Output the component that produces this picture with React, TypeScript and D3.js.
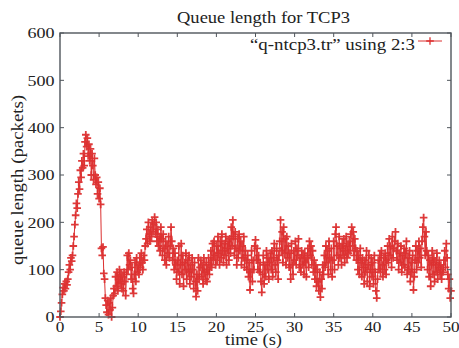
import React from "react";
import * as d3 from "d3";

const TITLE = "Queue length for TCP3";
const X_LABEL = "time (s)";
const Y_LABEL = "queue length (packets)";
const LEGEND = "\u201cq-ntcp3.tr\u201d using 2:3";
const X_TICKS = [0, 5, 10, 15, 20, 25, 30, 35, 40, 45, 50];
const Y_TICKS = [0, 100, 200, 300, 400, 500, 600];
const STEP = 0.1; // sampling interval (s)

// queue length samples, one every 0.1 s, grouped per second
const QUEUE = [
  0, 12, 30, 48, 62, 55, 70, 60, 75, 68,
  80, 95, 110, 100, 125, 118, 130, 150, 170, 195,
  215, 240, 230, 260, 285, 270, 310, 295, 330, 315,
  345, 320, 370, 385, 360, 378, 340, 365, 330, 355,
  300, 345, 320, 290, 335, 300, 280, 295, 260, 285,
  250, 272, 238, 145, 130, 148, 92, 80, 40, 25,
  10, 35, 5, 30, 15, 40, 0, 20, 45, 60,
  50, 85, 65, 95, 55, 80, 100, 70, 90, 60,
  85, 55, 95, 75, 45, 90, 130, 100, 135, 110,
  120, 80, 105, 60, 50, 90, 115, 75, 125, 95,
  110, 90, 125, 105, 135, 115, 100, 130, 120, 150,
  165, 185, 155, 200, 175, 160, 190, 170, 205, 180,
  195, 211, 175, 200, 160, 185, 150, 170, 140, 190,
  165, 130, 175, 145, 120, 160, 110, 150, 135, 170,
  125, 150, 190, 160, 120, 145, 100, 135, 110, 80,
  120, 95, 150, 70, 110, 155, 90, 130, 65, 115,
  100, 135, 80, 120, 95, 130, 70, 110, 85, 125,
  100, 60, 115, 75, 43, 90, 55, 125, 80, 105,
  120, 85, 110, 70, 125, 95, 80, 115, 75, 100,
  125, 90, 110, 140, 105, 155, 120, 160, 130, 110,
  150, 120, 170, 135, 110, 160, 125, 175, 140, 115,
  155, 130, 170, 110, 145, 160, 120, 165, 135, 190,
  150, 205, 170, 130, 180, 145, 110, 165, 125, 175,
  140, 160, 110, 150, 125, 170, 105, 140, 120, 100,
  130, 85, 115, 57, 95, 140, 75, 120, 100, 150,
  163, 120, 145, 100, 130, 95, 115, 75, 52, 90,
  130, 70, 110, 85, 140, 100, 125, 80, 115, 135,
  100, 140, 85, 125, 155, 110, 95, 145, 120, 80,
  130, 160, 205, 140, 180, 115, 190, 135, 165, 110,
  170, 125, 150, 105, 135, 80, 155, 110, 90, 140,
  120, 160, 110, 145, 130, 165, 105, 125, 95, 140,
  110, 130, 90, 135, 115, 85, 125, 145, 105, 160,
  130, 150, 110, 140, 95, 120, 80, 110, 65, 100,
  75, 55, 95, 42, 80, 60, 110, 90, 130, 105,
  150, 115, 140, 90, 160, 125, 100, 145, 85, 120,
  160, 100, 175, 190, 130, 150, 110, 170, 125, 145,
  110, 155, 130, 165, 115, 140, 170, 125, 150, 135,
  160, 140, 175, 190, 150, 180, 130, 165, 145, 120,
  140, 100, 130, 90, 145, 115, 85, 125, 105, 70,
  120, 95, 140, 75, 110, 130, 65, 100, 125, 85,
  115, 70, 130, 95, 55, 40, 80, 120, 100, 130,
  95, 140, 110, 85, 125, 100, 135, 90, 120, 150,
  115, 165, 130, 150, 105, 170, 125, 145, 160, 180,
  140, 120, 155, 100, 135, 115, 150, 95, 130, 110,
  145, 105, 135, 160, 90, 125, 100, 140, 75, 115,
  95, 130, 57, 85, 120, 150, 100, 140, 115, 160,
  125, 145, 105, 160, 190, 210, 170, 130, 180, 140,
  100, 130, 85, 120, 65, 110, 140, 90, 125, 75,
  115, 95, 135, 80, 105, 120, 90, 110, 80, 100,
  95, 120, 140, 105, 155, 125, 90, 60, 80, 40,
  55,
];

const W = 459;
const H = 348;
const M = { left: 60, right: 451, top: 33, bottom: 317 };
const RED = "#dc3030";
const AXIS = "#50565c";
const FONT = "'Liberation Serif', 'Times New Roman', serif";

export default function App() {
  const x = d3.scaleLinear().domain([0, 50]).range([M.left, M.right]);
  const y = d3.scaleLinear().domain([0, 600]).range([M.bottom, M.top]);
  const pts = QUEUE.map((v, i) => [i * STEP, v] as [number, number]);
  const line = d3
    .line<[number, number]>()
    .x((d) => x(d[0]))
    .y((d) => y(d[1]))(pts) as string;
  const s = 3.8;
  const markers = pts
    .map(([t, v]) => {
      const px = x(t);
      const py = y(v);
      return `M${px - s},${py}h${2 * s}M${px},${py - s}v${2 * s}`;
    })
    .join("");
  const tl = 4;
  const digitW = 8.6;

  return (
    <svg
      width={W}
      height={H}
      style={{ position: "absolute", left: 0, top: 0, background: "#fff" }}
      fontFamily={FONT}
    >
      <rect x={0} y={0} width={W} height={H} fill="#fff" />
      <text
        x={263.5}
        y={23}
        fontSize={16.5}
        textAnchor="middle"
        textLength={173}
        lengthAdjust="spacingAndGlyphs"
        fill="#222"
      >
        {TITLE}
      </text>

      {/* data */}
      <path d={line} fill="none" stroke={RED} strokeWidth={1} />
      <path d={markers} fill="none" stroke={RED} strokeWidth={1.8} opacity={0.95} />

      {/* frame */}
      <rect
        x={M.left}
        y={M.top}
        width={M.right - M.left}
        height={M.bottom - M.top}
        fill="none"
        stroke={AXIS}
        strokeWidth={1.4}
      />
      {X_TICKS.map((t) => (
        <g key={"xt" + t}>
          <line x1={x(t)} x2={x(t)} y1={M.bottom} y2={M.bottom - tl} stroke={AXIS} strokeWidth={1} />
          <line x1={x(t)} x2={x(t)} y1={M.top} y2={M.top + tl} stroke={AXIS} strokeWidth={1} />
          <text
            x={x(t)}
            y={332}
            fontSize={14.5}
            textAnchor="middle"
            textLength={String(t).length * digitW}
            lengthAdjust="spacingAndGlyphs"
            fill="#222"
          >
            {t}
          </text>
        </g>
      ))}
      {Y_TICKS.map((v) => (
        <g key={"yt" + v}>
          <line x1={M.left} x2={M.left + tl} y1={y(v)} y2={y(v)} stroke={AXIS} strokeWidth={1} />
          <line x1={M.right} x2={M.right - tl} y1={y(v)} y2={y(v)} stroke={AXIS} strokeWidth={1} />
          <text
            x={54.5}
            y={y(v) + 5.2}
            fontSize={14.5}
            textAnchor="end"
            textLength={String(v).length * 9}
            lengthAdjust="spacingAndGlyphs"
            fill="#222"
          >
            {v}
          </text>
        </g>
      ))}

      {/* axis labels */}
      <text
        x={253.5}
        y={345}
        fontSize={16}
        textAnchor="middle"
        textLength={57}
        lengthAdjust="spacingAndGlyphs"
        fill="#222"
      >
        {X_LABEL}
      </text>
      <text
        transform={`translate(23,180) rotate(-90)`}
        fontSize={16}
        textAnchor="middle"
        textLength={170}
        lengthAdjust="spacingAndGlyphs"
        fill="#222"
      >
        {Y_LABEL}
      </text>

      {/* legend */}
      <text
        x={415}
        y={50}
        fontSize={16}
        textAnchor="end"
        textLength={165}
        lengthAdjust="spacingAndGlyphs"
        fill="#222"
      >
        {LEGEND}
      </text>
      <line x1={418} x2={442} y1={41} y2={41} stroke={RED} strokeWidth={1} />
      <path d={`M${430 - s},41h${2 * s}M430,${41 - s}v${2 * s}`} stroke={RED} strokeWidth={1.3} />
    </svg>
  );
}
